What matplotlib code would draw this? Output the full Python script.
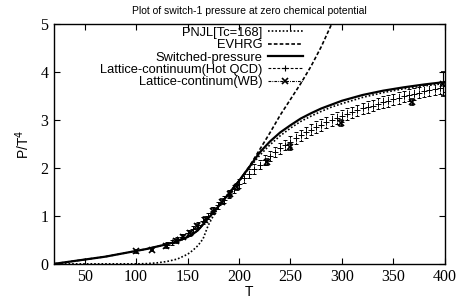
import numpy as np
import matplotlib.pyplot as plt
from matplotlib.lines import Line2D

# curves
T_curve = [20, 30, 40, 50, 60, 70, 80, 90, 100, 110, 120, 130, 140, 150, 155, 160, 165, 170, 175,
           180, 185, 190, 195, 200, 210, 220, 230, 240, 250, 260, 270, 280, 290, 300, 320, 340,
           360, 380, 400]
p_switch = [0.0, 0.03, 0.06, 0.09, 0.12, 0.15, 0.19, 0.23, 0.27, 0.31, 0.36, 0.41, 0.47, 0.56, 0.62,
            0.70, 0.82, 0.95, 1.07, 1.2, 1.33, 1.46, 1.6, 1.73, 2.02, 2.32, 2.55, 2.74, 2.89, 3.03,
            3.14, 3.24, 3.32, 3.40, 3.52, 3.61, 3.68, 3.74, 3.79]
p_pnjl = [0.0, 0.0, 0.0, 0.0, 0.0, 0.0, 0.0, 0.0, 0.0, 0.005, 0.02, 0.05, 0.1, 0.2, 0.28, 0.38,
          0.52, 0.8, 1.0, 1.18, 1.33, 1.47, 1.6, 1.73, 2.0, 2.26, 2.48, 2.67, 2.83, 2.97, 3.08, 3.18,
          3.27, 3.34, 3.47, 3.57, 3.65, 3.71, 3.76]
T_hrg = [20, 30, 40, 50, 60, 70, 80, 90, 100, 110, 120, 130, 140, 150, 155, 160, 165, 170, 175,
         180, 185, 190, 195, 200, 210, 220, 230, 240, 250, 260, 270, 280, 290, 295]
p_hrg = [0.0, 0.03, 0.06, 0.09, 0.12, 0.15, 0.19, 0.23, 0.27, 0.31, 0.36, 0.41, 0.47, 0.56, 0.62,
         0.70, 0.82, 0.95, 1.07, 1.2, 1.33, 1.46, 1.6, 1.73, 2.03, 2.38, 2.73, 3.1, 3.43, 3.76,
         4.12, 4.53, 5.0, 5.25]

# lattice HotQCD
T_hot = [130, 135, 140, 145, 150, 155, 160, 165, 170, 175, 180, 185, 190, 195, 200, 205, 210,
         215, 220, 225, 230, 235, 240, 245, 250, 255, 260, 265, 270, 275, 280, 285, 290, 295,
         300, 305, 310, 315, 320, 325, 330, 335, 340, 345, 350, 355, 360, 365, 370, 375, 380,
         385, 390, 395, 400]
p_hot = [0.40, 0.45, 0.51, 0.57, 0.64, 0.72, 0.81, 0.90, 1.00, 1.11, 1.22, 1.34, 1.45, 1.56, 1.67,
         1.78, 1.88, 1.98, 2.07, 2.16, 2.25, 2.33, 2.41, 2.48, 2.55, 2.62, 2.68, 2.74, 2.80, 2.85,
         2.90, 2.95, 3.00, 3.04, 3.08, 3.12, 3.16, 3.20, 3.24, 3.27, 3.30, 3.34, 3.37, 3.40, 3.43,
         3.46, 3.49, 3.52, 3.54, 3.57, 3.60, 3.62, 3.65, 3.67, 3.70]
e_hot = [0.05, 0.05, 0.05, 0.05, 0.06, 0.06, 0.06, 0.07, 0.07, 0.07, 0.08, 0.08, 0.08, 0.09, 0.09,
         0.09, 0.1, 0.1, 0.1, 0.1, 0.11, 0.11, 0.11, 0.11, 0.12, 0.12, 0.12, 0.12, 0.12, 0.12,
         0.12, 0.12, 0.12, 0.12, 0.12, 0.12, 0.12, 0.12, 0.12, 0.12, 0.12, 0.12, 0.12, 0.12, 0.12,
         0.12, 0.12, 0.12, 0.12, 0.12, 0.12, 0.12, 0.12, 0.12, 0.12]

# lattice WB
T_wb = [100, 115, 129, 139, 146, 152, 159, 167, 175, 183, 191, 198, 227, 250, 299, 368, 398]
p_wb = [0.26, 0.29, 0.375, 0.48, 0.57, 0.64, 0.78, 0.92, 1.1, 1.3, 1.45, 1.61, 2.13, 2.44, 2.93,
        3.38, 3.75]
e_wb = [0.03, 0.03, 0.04, 0.04, 0.04, 0.05, 0.05, 0.05, 0.06, 0.06, 0.06, 0.06, 0.06, 0.06, 0.06,
        0.06, 0.25]

fig = plt.figure(figsize=(4.6, 3.04), dpi=100)
ax = fig.add_axes([0.117, 0.132, 0.850, 0.789])

l1, = ax.plot(T_curve, p_pnjl, color='black', lw=1.2, ls=(0, (1, 1.2)))
l2, = ax.plot(T_hrg, p_hrg, color='black', lw=1.2, ls=(0, (2.2, 1.3)))
l3, = ax.plot(T_curve, p_switch, color='black', lw=1.6)
eb = ax.errorbar(T_hot, p_hot, yerr=e_hot, fmt='+', color='black', ms=5, mew=0.7,
                 elinewidth=0.7, capsize=1.5, capthick=0.7)
eb[2][0].set_linestyle((0, (2, 1)))
eb2 = ax.errorbar(T_wb, p_wb, yerr=e_wb, fmt='x', color='black', ms=4, mew=1.2,
                  elinewidth=0.8, capsize=1.5, capthick=0.8)

# horizontal samples for the lattice entries, like the original key
h4 = Line2D([], [], color='black', lw=0.8, ls=(0, (2.5, 1.5)), marker='+', ms=5, mew=0.8)
h5 = Line2D([], [], color='black', lw=0.8, ls=(0, (2.5, 1, 0.8, 1)), marker='x', ms=4, mew=1.2)

ax.set_xlim(20, 400)
ax.set_ylim(0, 5)
ax.set_xticks([50, 100, 150, 200, 250, 300, 350, 400])
ax.set_yticks([0, 1, 2, 3, 4, 5])
ax.tick_params(direction='in', top=True, right=True, length=4, width=0.8, labelsize=11.5, pad=4)
for lab in ax.get_xticklabels() + ax.get_yticklabels():
    lab.set_family('Liberation Serif')
for s in ax.spines.values():
    s.set_linewidth(1.0)

ax.set_xlabel('T', family='Liberation Sans', fontsize=10, labelpad=0)
ax.set_ylabel('P/T$^4$', family='Liberation Sans', fontsize=10, labelpad=6)
ax.set_title('Plot of switch-1 pressure at zero chemical potential', family='Liberation Sans',
             fontsize=7.5, pad=7)

leg = ax.legend([l1, l2, l3, h4, h5],
                ['PNJL[Tc=168]', 'EVHRG', 'Switched-pressure', 'Lattice-continuum(Hot QCD)',
                 'Lattice-continum(WB)'],
                loc='upper right', bbox_to_anchor=(0.637, 0.988), markerfirst=False, frameon=False,
                prop={'family': 'Liberation Sans', 'size': 9.3}, handlelength=2.7,
                handletextpad=0.45, labelspacing=0.02, borderaxespad=0, borderpad=0)

fig.savefig('out.png', dpi=100)
